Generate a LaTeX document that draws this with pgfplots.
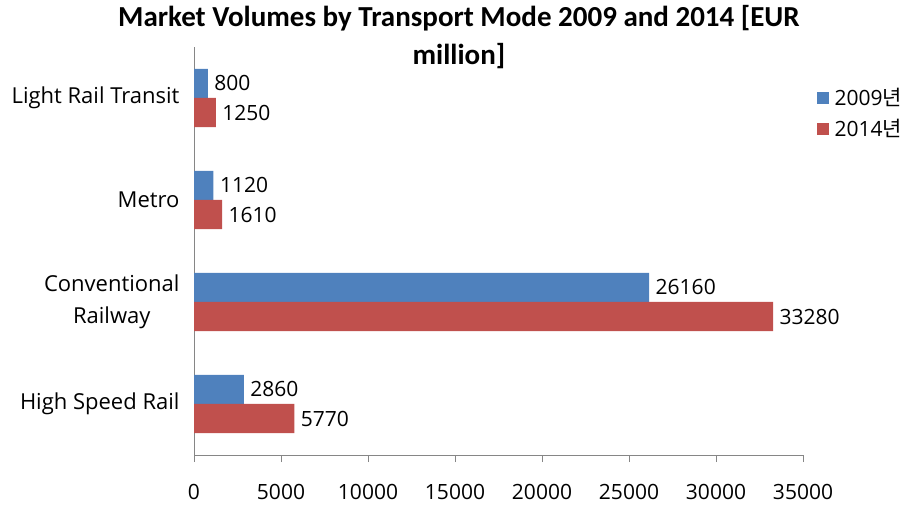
\documentclass[border=0pt]{standalone}
\usepackage{fontspec}
\usepackage{pgfplots}
\pgfplotsset{compat=1.18}
\setmainfont{Open Sans}
\newfontfamily\titlefont{Carlito}
\newfontfamily\kr{Noto Sans CJK KR}
\definecolor{cblue}{HTML}{4F81BD}
\definecolor{cred}{HTML}{C0504D}
\definecolor{axgray}{HTML}{868686}
\newcommand{\lab}{\fontsize{22bp}{32bp}\selectfont}
\newcommand{\num}{\fontsize{21bp}{30bp}\selectfont}
\begin{document}
\begin{tikzpicture}
\path[use as bounding box] (0,0) rectangle (910bp,512bp);
\begin{axis}[
  at={(194bp,57bp)}, anchor=south west,
  scale only axis, width=609bp, height=408bp,
  xbar, bar width=0.285,
  xmin=0, xmax=35000, ymin=-0.5, ymax=3.5,
  axis x line*=bottom, axis y line*=left,
  axis line style={axgray, line width=0.8bp},
  x axis line style={-}, y axis line style={-},
  xtick={0,5000,...,35000},
  xtick style={axgray, line width=0.8bp},
  major tick length=7bp,
  xtick align=outside,
  ytick={0,1,2,3},
  yticklabels={High Speed Rail,{Conventional\\Railway},Metro,Light Rail Transit},
  ytick style={draw=none},
  yticklabel style={align=center, font=\lab, xshift=-4bp},
  xticklabel style={font=\num, yshift=-19bp},
  /pgf/number format/assume math mode=true,
  scaled x ticks=false,
  xticklabel={\pgfmathprintnumber[fixed,1000 sep={}]{\tick}},
  nodes near coords,
  nodes near coords style={font=\num, text=black, xshift=3bp,
    /pgf/number format/.cd, fixed, 1000 sep={}, assume math mode=true},
  legend style={draw=none, fill=none, font=\num, anchor=west,
    row sep=8bp, legend cell align=left, inner sep=0pt,
    nodes={inner xsep=6bp},
    at={(rel axis cs:1.022,0.838)}},
  legend image code/.code={\fill[#1] (0bp,-6bp) rectangle (12bp,6bp);},
  title={Market Volumes by Transport Mode 2009 and 2014 [EUR\\million]},
  title style={font=\titlefont\bfseries\fontsize{29bp}{38bp}\selectfont, align=center,
    at={(rel axis cs:0.435,1.097)}, anchor=north},
]
\addplot[fill=cblue, draw=none, bar shift=0.1425] coordinates {(2860,0) (26160,1) (1120,2) (800,3)};
\addplot[fill=cred, draw=none, bar shift=-0.1425] coordinates {(5770,0) (33280,1) (1610,2) (1250,3)};
\legend{2009{\kr 년},2014{\kr 년}}
\end{axis}
\end{tikzpicture}
\end{document}
